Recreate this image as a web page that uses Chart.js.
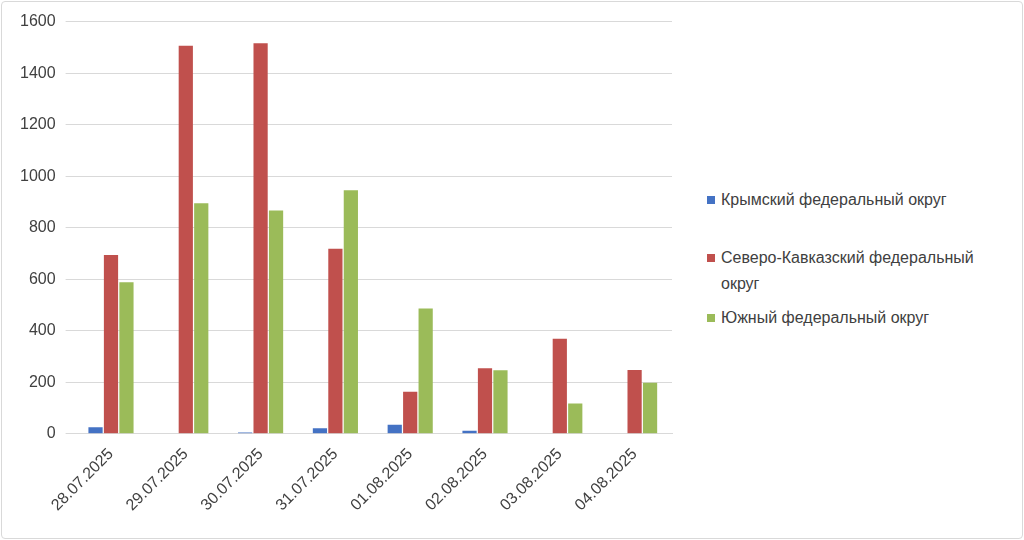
<!DOCTYPE html>
<html><head><meta charset="utf-8">
<script src="https://cdn.jsdelivr.net/npm/chart.js"></script>
<style>
body{margin:0;background:#fff;font-family:"Liberation Sans",Calibri,sans-serif;}
#wrap{position:absolute;left:1px;top:1px;width:1020px;height:536px;border:1px solid #d9d9d9;border-radius:4px;}
#c{position:absolute;left:0;top:0;}
#leg{position:absolute;left:705px;top:185px;width:300px;font-size:16px;color:#404040;}
.it{position:absolute;padding-left:14px;line-height:26px;width:286px;}
.sw{position:absolute;left:0;top:9px;width:8px;height:8px;}
</style></head><body>
<div id="wrap"><canvas id="c" width="680" height="536"></canvas>
<div id="leg"></div></div>
<script>
const categories=["28.07.2025","29.07.2025","30.07.2025","31.07.2025","01.08.2025","02.08.2025","03.08.2025","04.08.2025"];
const seriesNames=["Крымский федеральный округ","Северо-Кавказский федеральный округ","Южный федеральный округ"];
const crimea=[25,0,5,22,35,12,0,0];
const northCaucasus=[694,1506,1516,718,163,254,369,248];
const south=[588,895,867,945,486,247,118,198];
const yTicks=[0,200,400,600,800,1000,1200,1400,1600];
const colors=["#4472c4","#c0504d","#9bbb59"];
const data=[crimea,northCaucasus,south];
new Chart(document.getElementById('c'),{type:'bar',
data:{labels:categories,datasets:data.map((d,i)=>({label:seriesNames[i],data:d,backgroundColor:colors[i],categoryPercentage:0.62,barPercentage:0.92}))},
options:{responsive:false,animation:false,
layout:{padding:{left:8,top:14,right:10,bottom:20}},
plugins:{legend:{display:false},tooltip:{enabled:false}},
scales:{x:{grid:{display:false},border:{color:'#d9d9d9'},ticks:{color:'#404040',font:{size:16,family:'Liberation Sans'},maxRotation:45,minRotation:45}},
y:{min:0,max:1600,afterBuildTicks:a=>{a.ticks=yTicks.map(v=>({value:v}));},grid:{color:'#d9d9d9'},border:{display:false},ticks:{color:'#404040',font:{size:16,family:'Liberation Sans'},padding:10,callback:v=>String(v)}}}}});
const leg=document.getElementById('leg');
const tops=[0,58,118];
seriesNames.forEach((n,i)=>{const d=document.createElement('div');d.className='it';d.style.top=tops[i]+'px';d.innerHTML='<span class="sw" style="background:'+colors[i]+'"></span>'+n;leg.appendChild(d);});
</script></body></html>
